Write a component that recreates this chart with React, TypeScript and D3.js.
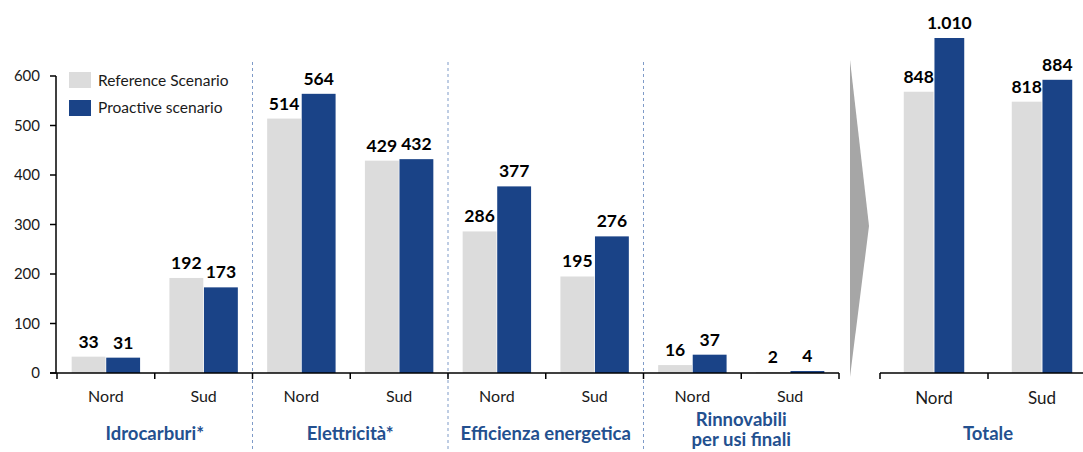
import React from "react";
import * as d3 from "d3";

const groups = ["Idrocarburi*", "Elettricità*", "Efficienza energetica", "Rinnovabili|per usi finali"];
const regions = ["Nord", "Sud"];
const referenceValues = [33, 192, 514, 429, 286, 195, 16, 2];
const proactiveValues = [31, 173, 564, 432, 377, 276, 37, 4];
const totalReference = [848, 818];
const totalProactive = [1010, 884];
const yTicks = [0, 100, 200, 300, 400, 500, 600];
const seriesNames = ["Reference Scenario", "Proactive scenario"];
const seriesColors = ["#DCDCDC", "#1A4387"];

const W = 1083;
const H = 452;
const FONT = "Lato, 'Open Sans', sans-serif";
const GROUP_BLUE = "#23508F";
const TEXT = "#1a1a1a";

const itLocale = d3.formatLocale({ decimal: ",", thousands: ".", grouping: [3], currency: ["€", ""] });
const fmt = itLocale.format(",d");

export default function App() {
  const baseY = 373;
  const keys = groups.flatMap((g, gi) => regions.map((r) => `${gi}-${r}`));
  const x = d3.scaleBand<string>().domain(keys).range([57, 839]).paddingInner(0.3).paddingOuter(0.15);
  const y = d3.scaleLinear().domain([0, 600]).range([baseY, 76]);
  const xs = d3.scaleBand<string>().domain(["0", "1"]).range([0, x.bandwidth()]).paddingInner(0.02);
  const step = x.step();

  const xr = d3.scaleBand<string>().domain(regions).range([880, 1096]).paddingInner(0.44).paddingOuter(0.22);
  const yr = d3.scaleLinear().domain([0, 1010]).range([baseY, 38]);
  const xrs = d3.scaleBand<string>().domain(["0", "1"]).range([0, xr.bandwidth()]).paddingInner(0.03);

  const leftSeries = [referenceValues, proactiveValues];
  const rightSeries = [totalReference, totalProactive];

  const bandStart = (k: string) => (x(k) as number) - x.paddingOuter() * step;

  return (
    <svg width={W} height={H} style={{ position: "absolute", left: 0, top: 0 }} fontFamily={FONT}>
      <rect x={0} y={0} width={W} height={H} fill="#fff" />

      {/* separators */}
      {[1, 2, 3].map((gi) => {
        const sx = 57 + gi * 2 * step;
        return <line key={gi} x1={sx} x2={sx} y1={62} y2={H} stroke="#7F9BC8" strokeWidth={1} strokeDasharray="3,3" />;
      })}

      {/* left bars */}
      {keys.map((k, i) =>
        leftSeries.map((vals, si) => {
          const bx = (x(k) as number) + (xs(String(si)) as number);
          const v = vals[i];
          return (
            <g key={`${k}-${si}`}>
              <rect x={bx} y={y(v)} width={xs.bandwidth()} height={baseY - y(v)} fill={seriesColors[si]} />
              <text x={bx + xs.bandwidth() / 2} y={y(v) - 9} textAnchor="middle" fontSize={17.5} fontWeight="bold" fill="#000">
                {fmt(v)}
              </text>
            </g>
          );
        })
      )}

      {/* y axis */}
      <line x1={56} x2={56} y1={y(600)} y2={baseY} stroke="#000" strokeWidth={1.5} />
      {yTicks.map((t) => (
        <g key={t}>
          <line x1={50} x2={56} y1={y(t)} y2={y(t)} stroke="#000" strokeWidth={1.5} />
          <text x={40} y={y(t) + 5} textAnchor="end" fontSize={15} fill={TEXT}>
            {t}
          </text>
        </g>
      ))}

      {/* x axis */}
      <line x1={50} x2={839} y1={baseY} y2={baseY} stroke="#000" strokeWidth={1.5} />
      {d3.range(keys.length + 1).map((i) => (
        <line key={i} x1={57 + i * step} x2={57 + i * step} y1={baseY} y2={baseY + 6} stroke="#000" strokeWidth={1.5} />
      ))}
      {keys.map((k) => (
        <text key={k} x={bandStart(k) + step / 2} y={402} textAnchor="middle" fontSize={16} fill={TEXT}>
          {k.split("-")[1]}
        </text>
      ))}
      {groups.map((g, gi) => {
        const cx = 57 + (gi * 2 + 1) * step;
        const lines = g.split("|");
        const y0 = lines.length > 1 ? 426 : 440;
        return (
          <text key={g} x={cx} textAnchor="middle" fontSize={18.5} fontWeight="bold" fill={GROUP_BLUE}>
            {lines.map((l, li) => (
              <tspan key={li} x={cx} y={y0 + li * 20}>
                {l}
              </tspan>
            ))}
          </text>
        );
      })}

      {/* legend */}
      {seriesNames.map((n, i) => (
        <g key={n}>
          <rect x={69} y={72 + i * 28} width={22} height={16} fill={seriesColors[i]} />
          <text x={98} y={86 + i * 27} fontSize={15.5} fill={TEXT}>
            {n}
          </text>
        </g>
      ))}

      {/* arrow */}
      <polygon points="850,60 869,226 850,377" fill="#A6A6A6" />

      {/* right panel */}
      {regions.map((r, ri) =>
        rightSeries.map((vals, si) => {
          const bx = (xr(r) as number) + (xrs(String(si)) as number);
          const v = vals[ri];
          return (
            <g key={`${r}-${si}`}>
              <rect x={bx} y={yr(v)} width={xrs.bandwidth()} height={baseY - yr(v)} fill={seriesColors[si]} />
              <text x={bx + xrs.bandwidth() / 2} y={yr(v) - 9} textAnchor="middle" fontSize={17.5} fontWeight="bold" fill="#000">
                {fmt(v)}
              </text>
            </g>
          );
        })
      )}
      <line x1={880} x2={W} y1={baseY} y2={baseY} stroke="#000" strokeWidth={1.5} />
      {[0, 1, 2].map((i) => {
        const tx = 880 + i * xr.step();
        return <line key={i} x1={tx} x2={tx} y1={baseY} y2={baseY + 6} stroke="#000" strokeWidth={1.5} />;
      })}
      {regions.map((r) => (
        <text key={r} x={(xr(r) as number) + xr.bandwidth() / 2} y={404} textAnchor="middle" fontSize={17} fill={TEXT}>
          {r}
        </text>
      ))}
      <text x={880 + xr.step()} y={440} textAnchor="middle" fontSize={18.5} fontWeight="bold" fill={GROUP_BLUE}>
        Totale
      </text>
    </svg>
  );
}
